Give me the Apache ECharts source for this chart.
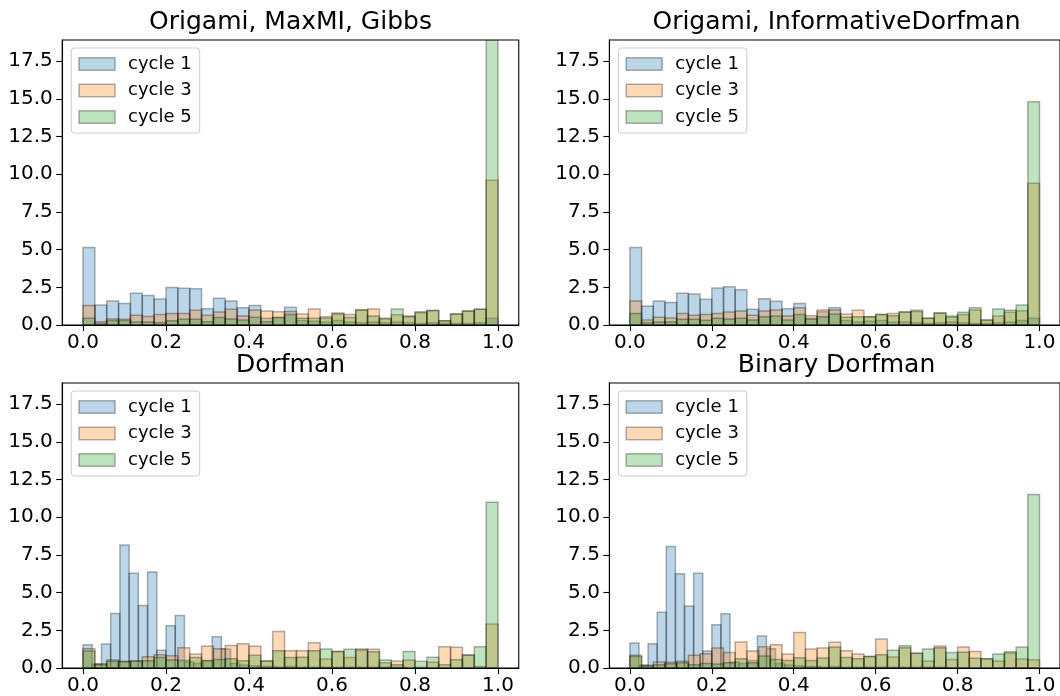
<!DOCTYPE html>
<html><head><meta charset="utf-8">
<script src="https://cdn.jsdelivr.net/npm/echarts@6/dist/echarts.min.js"></script>
<style>html,body{margin:0;padding:0;background:#fff}#c{width:1060px;height:696px}</style>
</head><body><div id="c"></div>
<script>
// ---- data ----
const panelTitles = ['Origami, MaxMI, Gibbs', 'Origami, InformativeDorfman', 'Dorfman', 'Binary Dorfman'];
const cycleNames = ['cycle 1', 'cycle 3', 'cycle 5'];
const xTicks = [0, 0.2, 0.4, 0.6, 0.8, 1.0];
const yTicks = [0, 2.5, 5, 7.5, 10, 12.5, 15, 17.5];
const yMax = 18.9;
const binCount = 35;

// Origami, MaxMI, Gibbs
const gibbsCycle1 = [5.14,1.32,1.59,1.43,2.10,1.96,1.72,2.49,2.43,2.40,1.08,1.77,1.59,1.15,1.30,0.45,0.50,1.17,0.30,0.25,0.20,0.30,0.20,0.15,0.20,0.15,0.20,0.15,0.10,0.15,0.10,0.10,0.10,0.15,0.44];
const gibbsCycle3 = [1.30,0.22,0.40,0.38,0.64,0.57,0.70,0.77,0.77,0.97,0.64,0.86,1.04,0.60,0.99,0.93,0.88,0.90,0.73,1.06,0.55,0.80,0.70,1.00,1.06,0.40,0.68,0.60,0.82,0.97,0.29,0.73,0.93,1.04,9.60];
const gibbsCycle5 = [0.44,0.10,0.30,0.30,0.20,0.20,0.15,0.29,0.38,0.38,0.22,0.49,0.40,0.33,0.51,0.22,0.50,0.70,0.44,0.44,0.44,0.73,0.49,1.00,0.60,0.44,1.06,0.55,0.88,0.95,0.29,0.73,0.93,1.04,18.90];
const gibbsRanges = [[0, 1], [0, 1], [0, 1]];

// Origami, InformativeDorfman
const infoCycle1 = [5.14,1.26,1.59,1.50,2.10,2.05,1.70,2.45,2.54,2.34,1.04,1.74,1.57,1.08,1.43,0.45,0.88,1.15,0.30,0.20,0.25,0.30,0.20,0.20,0.15,0.10,0.15,0.20,0.15,0.10,0.10,0.15,0.20,0.30,0.44];
const infoCycle3 = [1.59,0.33,0.51,0.46,0.77,0.64,0.70,0.77,0.86,0.93,0.64,0.93,0.99,0.60,1.15,0.62,0.99,1.00,0.73,0.97,0.55,0.70,0.77,0.86,0.97,0.44,0.80,0.51,0.70,1.00,0.33,0.60,0.84,0.95,9.40];
const infoCycle5 = [0.77,0.15,0.20,0.20,0.38,0.38,0.31,0.44,0.40,0.44,0.33,0.55,0.60,0.33,0.70,0.38,0.55,0.73,0.51,0.55,0.55,0.70,0.62,0.86,0.90,0.44,0.80,0.60,0.84,1.15,0.33,1.06,0.97,1.32,14.80];
const infoRanges = [[0, 1], [0, 1], [0, 1]];

// Dorfman
const dorfCycle1 = [1.54,0.25,1.59,3.61,8.15,6.28,4.14,6.37,1.17,2.80,3.48,0.40,0.30,0.50,2.07,1.26,0.30,0.20,0.15,0.10,0.10,0.05,0.10,0.05,0.05,0.05,0.05,0.05,0.05,0.05,0.05,0.05,0.05,0.05,0.05];
const dorfCycle3 = [1.28,0.29,0.53,0.44,0.48,0.75,0.88,0.81,1.34,0.93,1.45,1.28,1.50,1.61,1.45,0.48,2.42,1.15,1.15,1.68,0.60,1.10,0.70,1.26,1.24,0.35,0.46,0.53,0.05,0.38,1.41,1.37,0.86,0.09,2.91];
const dorfCycle5 = [1.12,0.22,0.44,0.40,0.44,0.48,0.70,0.53,0.50,0.70,0.48,0.57,0.62,0.48,0.84,0.44,1.15,0.70,0.71,1.15,1.26,1.10,1.24,1.19,1.08,0.53,0.22,1.10,0.44,0.71,0.22,0.55,0.86,1.41,11.00];
const dorfRanges = [[0, 0.778], [0, 1], [0, 1]];

// Binary Dorfman
const binCycle1 = [1.66,0.18,1.61,3.69,8.06,6.25,4.11,6.29,1.13,2.87,3.60,0.40,0.30,0.50,2.12,1.28,0.30,0.20,0.15,0.10,0.10,0.05,0.10,0.05,0.05,0.05,0.05,0.05,0.05,0.05,0.05,0.05,0.05,0.05,0.05];
const binCycle3 = [0.84,0.18,0.40,0.38,0.44,0.84,0.95,1.32,1.02,1.72,1.13,1.41,1.55,0.93,2.36,1.26,1.32,1.70,1.15,0.93,0.77,1.92,0.73,1.35,0.97,0.46,1.46,0.57,1.39,1.10,0.62,0.46,0.99,0.60,0.55];
const binCycle5 = [0.77,0.13,0.22,0.29,0.35,0.22,0.30,0.26,0.35,0.62,0.35,0.79,0.57,0.49,0.68,0.49,0.66,1.39,0.70,0.62,0.77,0.88,1.17,1.48,0.97,1.26,1.35,1.02,1.04,0.64,0.62,0.93,1.08,1.39,11.50];
const binRanges = [[0, 0.778], [0, 1], [0, 1]];

// ---- assembly ----
const panels = [
  { heights: [gibbsCycle1, gibbsCycle3, gibbsCycle5], ranges: gibbsRanges },
  { heights: [infoCycle1, infoCycle3, infoCycle5], ranges: infoRanges },
  { heights: [dorfCycle1, dorfCycle3, dorfCycle5], ranges: dorfRanges },
  { heights: [binCycle1, binCycle3, binCycle5], ranges: binRanges }
];
const layout = [
  { left: 62.25, top: 40, width: 456.5, height: 285 },
  { left: 609.4, top: 40, width: 454.3, height: 285 },
  { left: 62.25, top: 383, width: 456.5, height: 285 },
  { left: 609.4, top: 383, width: 454.3, height: 285 }
];
const fills = ['rgba(31,119,180,0.3)', 'rgba(255,127,14,0.3)', 'rgba(44,160,44,0.3)'];
const edge = 'rgba(0,0,0,0.3)';
const FONT = 'DejaVu Sans';

const grids = [], xAxes = [], yAxes = [], series = [], legends = [], graphics = [];
layout.forEach((g, i) => {
  grids.push({ left: g.left, top: g.top, width: g.width, height: g.height, show: true, borderColor: '#000', borderWidth: 1.1, backgroundColor: 'transparent' });
  xAxes.push({
    type: 'value', gridIndex: i, min: -0.05, max: 1.05,
    axisLine: { show: true, onZero: false, lineStyle: { color: '#000', width: 1.1 } },
    axisTick: { show: true, length: 6, lineStyle: { color: '#000', width: 1.1 }, customValues: xTicks },
    axisLabel: { customValues: xTicks, margin: 8, fontSize: 20, fontFamily: FONT, color: '#000', formatter: v => v.toFixed(1) },
    splitLine: { show: false }
  });
  yAxes.push({
    type: 'value', gridIndex: i, min: 0, max: yMax,
    axisLine: { show: true, onZero: false, lineStyle: { color: '#000', width: 1.1 } },
    axisTick: { show: true, length: 6, lineStyle: { color: '#000', width: 1.1 }, customValues: yTicks },
    axisLabel: { customValues: yTicks, margin: 9.5, fontSize: 20, fontFamily: FONT, color: '#000', formatter: v => v.toFixed(1) },
    splitLine: { show: false }
  });
  const p = panels[i];
  p.heights.forEach((hs, s) => {
    const [lo, hi] = p.ranges[s];
    const w = (hi - lo) / binCount;
    const data = hs.map((h, k) => [lo + k * w, lo + (k + 1) * w, h]);
    series.push({
      type: 'custom', name: cycleNames[s], xAxisIndex: i, yAxisIndex: i, clip: true,
      itemStyle: { color: fills[s], borderColor: edge, borderWidth: 1.5 },
      encode: { x: [0, 1], y: 2 },
      data: data,
      z: 2 + s,
      renderItem: (params, api) => {
        const a = api.coord([api.value(0), api.value(2)]);
        const b = api.coord([api.value(1), 0]);
        return {
          type: 'rect',
          shape: { x: a[0], y: a[1], width: b[0] - a[0], height: b[1] - a[1] },
          style: { fill: fills[s], stroke: edge, lineWidth: 1.5 }
        };
      }
    });
  });
  legends.push({
    left: g.left + 9, top: g.top + 8, orient: 'vertical',
    backgroundColor: 'rgba(255,255,255,0.8)', borderColor: '#cccccc', borderWidth: 1, borderRadius: 3,
    padding: [7, 8, 7, 7], itemGap: 8.5, itemWidth: 36, itemHeight: 12.6, icon: 'rect',
    textStyle: { fontSize: 18, fontFamily: FONT, color: '#000', lineHeight: 18, padding: [0, 0, 0, 8] },
    selectedMode: false,
    data: cycleNames.map((n, s) => ({ name: n, itemStyle: { color: fills[s], borderColor: edge, borderWidth: 1.5 } }))
  });
  graphics.push({
    type: 'text', x: g.left + g.width / 2, y: g.top - 18,
    style: { text: panelTitles[i], fontSize: 25, fontFamily: FONT, fill: '#000', align: 'center', verticalAlign: 'middle' }
  });
});

const chart = echarts.init(document.getElementById('c'), null, { renderer: 'canvas' });
chart.setOption({
  animation: false,
  backgroundColor: '#fff',
  grid: grids, xAxis: xAxes, yAxis: yAxes, series: series, legend: legends,
  graphic: graphics
});
</script></body></html>
